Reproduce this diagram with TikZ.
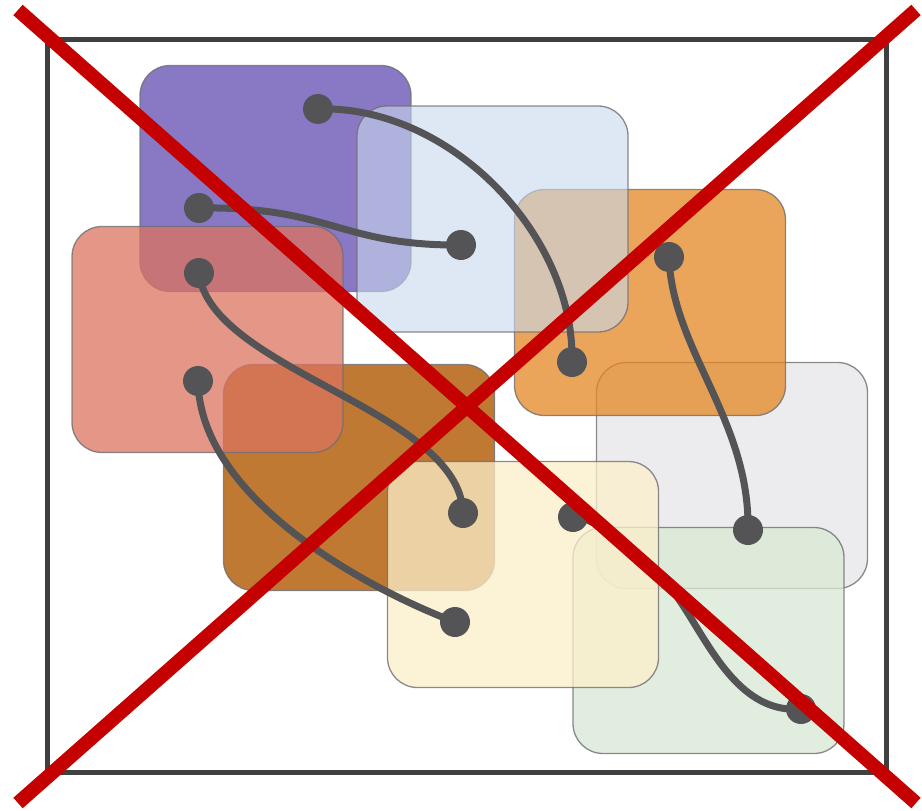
\documentclass[tikz,border=0pt]{standalone}
\usetikzlibrary{calc}
\definecolor{cPurple}{RGB}{98,75,177}
\definecolor{cBlue}{RGB}{200,218,238}
\definecolor{cOrange}{RGB}{229,135,35}
\definecolor{cSalmon}{RGB}{219,115,95}
\definecolor{cBrown}{RGB}{185,107,29}
\definecolor{cGray}{RGB}{230,230,233}
\definecolor{cGreen}{RGB}{216,232,211}
\definecolor{cCream}{RGB}{252,239,202}
\definecolor{cEdge}{RGB}{110,110,115}
\definecolor{cWire}{RGB}{84,84,86}
\definecolor{cFrame}{RGB}{64,64,64}
\definecolor{cRed}{RGB}{196,0,0}
\tikzset{
  sq/.style={draw=cEdge, draw opacity=0.8, line width=1.3pt, rounded corners=30pt,
    minimum width=271pt, minimum height=226pt, inner sep=0pt, fill opacity=0.75},
  dot/.style={circle, fill=cWire, minimum size=30pt, inner sep=0pt},
  wire/.style={draw=cWire, line width=7pt},
  frame/.style={draw=cFrame, line width=5pt},
  xline/.style={draw=cRed, line width=14pt},
}
\begin{document}
\begin{tikzpicture}[x=1pt, y=-1pt]
\useasboundingbox (0,0) rectangle (922,811);
\fill[white] (0,0) rectangle (922,811);
% frame
\draw[frame] (47,39) rectangle (886,772);
% squares (bottom to top)
\node[sq, fill=cPurple] (purple) at (275.5,178.5) {};
\node[sq, fill=cGray] (gray) at (732,475.5) {};
\node[sq, fill=cOrange] (orange) at (650,302.5) {};
\node[sq, fill=cBlue, fill opacity=0.6] (blue) at (492.5,219) {};
\node[sq, fill=cBrown, fill opacity=0.9] (brown) at (359,477.5) {};
\node[sq, fill=cSalmon] (salmon) at (207.5,339.5) {};
\node[sq, fill=cGreen] (green) at (708.5,640.5) {};
\node[sq, fill=cCream] (cream) at (523,574.5) {};
% dots
\node[dot] (A) at (318,109) {};
\node[dot] (B) at (572,362) {};
\node[dot] (C) at (199,208) {};
\node[dot] (D) at (461,245) {};
\node[dot] (E) at (199,273) {};
\node[dot] (F) at (463,513) {};
\node[dot] (G) at (198,381) {};
\node[dot] (H) at (455,622) {};
\node[dot] (I) at (669,257) {};
\node[dot] (J) at (748,530) {};
\node[dot] (K) at (573,517) {};
\node[dot] (L) at (801,709) {};
\coordinate (M) at (660,577);
% wires
\draw[wire] (A.center) .. controls (450,105) and (575,235) .. (B.center);
\draw[wire] (C.center) .. controls (330,206) and (340,246) .. (D.center);
\draw[wire] (E.center) .. controls (210,370) and (460,410) .. (F.center);
\draw[wire] (G.center) .. controls (200,500) and (370,590) .. (H.center);
\draw[wire] (I.center) .. controls (672,350) and (750,420) .. (J.center);
\draw[wire] (K.center) .. controls (598,517) and (630,551) .. (M)
                       .. controls (698,610) and (725,715) .. (L.center);
% red cross
\coordinate (x1) at (18,10);
\coordinate (x2) at (916,803);
\coordinate (x3) at (916,10);
\coordinate (x4) at (18,803);
\draw[xline] (x1) -- (x2);
\draw[xline] (x3) -- (x4);
\end{tikzpicture}
\end{document}
